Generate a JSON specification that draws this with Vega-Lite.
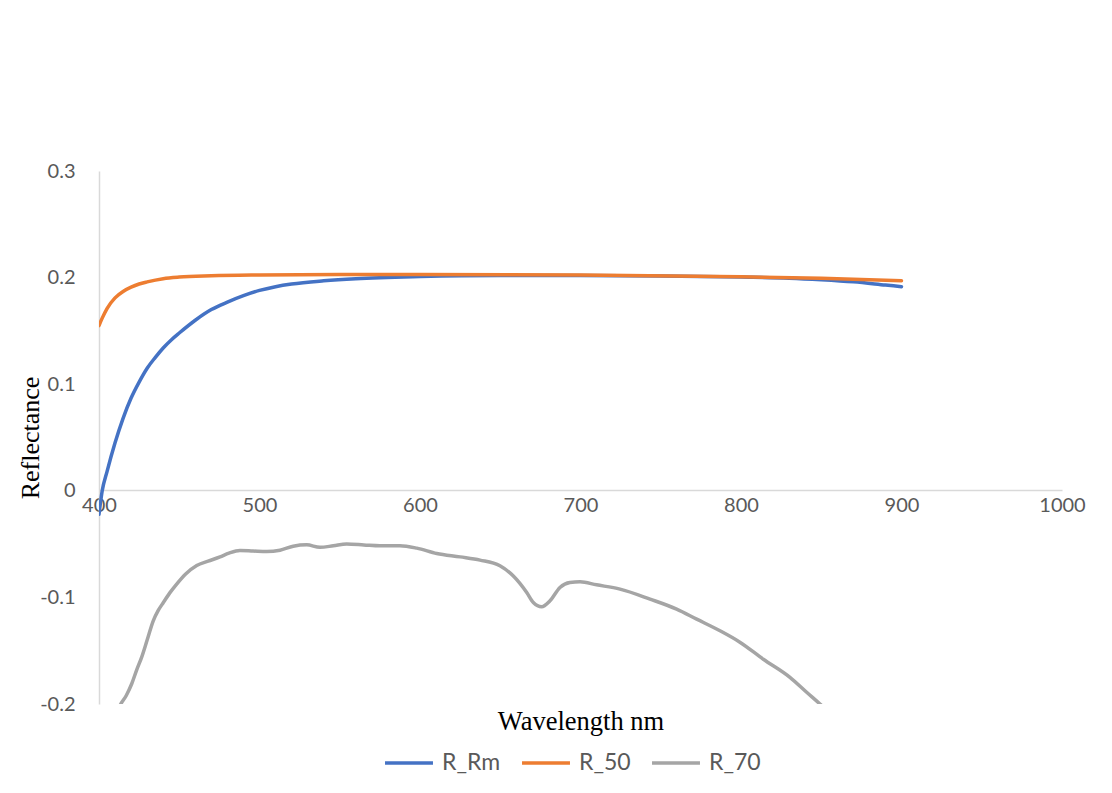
{
  "$schema": "https://vega.github.io/schema/vega-lite/v6.json",
  "width": 963,
  "height": 533,
  "autosize": {"type": "none"},
  "padding": {"left": 99, "top": 171, "right": 50, "bottom": 89},
  "background": "white",
  "config": {"view": {"stroke": null}},
  "data": {"values": [
    {"nm": 400, "v": -0.022, "s": "R_Rm"},
    {"nm": 402, "v": 0.0, "s": "R_Rm"},
    {"nm": 405, "v": 0.018, "s": "R_Rm"},
    {"nm": 410, "v": 0.045, "s": "R_Rm"},
    {"nm": 415, "v": 0.068, "s": "R_Rm"},
    {"nm": 420, "v": 0.087, "s": "R_Rm"},
    {"nm": 425, "v": 0.102, "s": "R_Rm"},
    {"nm": 430, "v": 0.115, "s": "R_Rm"},
    {"nm": 435, "v": 0.125, "s": "R_Rm"},
    {"nm": 440, "v": 0.134, "s": "R_Rm"},
    {"nm": 445, "v": 0.1415, "s": "R_Rm"},
    {"nm": 450, "v": 0.148, "s": "R_Rm"},
    {"nm": 460, "v": 0.16, "s": "R_Rm"},
    {"nm": 470, "v": 0.17, "s": "R_Rm"},
    {"nm": 480, "v": 0.177, "s": "R_Rm"},
    {"nm": 490, "v": 0.183, "s": "R_Rm"},
    {"nm": 500, "v": 0.188, "s": "R_Rm"},
    {"nm": 510, "v": 0.1915, "s": "R_Rm"},
    {"nm": 520, "v": 0.194, "s": "R_Rm"},
    {"nm": 540, "v": 0.197, "s": "R_Rm"},
    {"nm": 560, "v": 0.199, "s": "R_Rm"},
    {"nm": 600, "v": 0.201, "s": "R_Rm"},
    {"nm": 650, "v": 0.202, "s": "R_Rm"},
    {"nm": 700, "v": 0.202, "s": "R_Rm"},
    {"nm": 750, "v": 0.2015, "s": "R_Rm"},
    {"nm": 800, "v": 0.2005, "s": "R_Rm"},
    {"nm": 830, "v": 0.1995, "s": "R_Rm"},
    {"nm": 850, "v": 0.198, "s": "R_Rm"},
    {"nm": 870, "v": 0.196, "s": "R_Rm"},
    {"nm": 890, "v": 0.193, "s": "R_Rm"},
    {"nm": 900, "v": 0.1915, "s": "R_Rm"},
    {"nm": 400, "v": 0.155, "s": "R_50"},
    {"nm": 402, "v": 0.162, "s": "R_50"},
    {"nm": 405, "v": 0.171, "s": "R_50"},
    {"nm": 410, "v": 0.181, "s": "R_50"},
    {"nm": 415, "v": 0.187, "s": "R_50"},
    {"nm": 420, "v": 0.191, "s": "R_50"},
    {"nm": 425, "v": 0.194, "s": "R_50"},
    {"nm": 430, "v": 0.196, "s": "R_50"},
    {"nm": 440, "v": 0.199, "s": "R_50"},
    {"nm": 450, "v": 0.2005, "s": "R_50"},
    {"nm": 470, "v": 0.2017, "s": "R_50"},
    {"nm": 500, "v": 0.2025, "s": "R_50"},
    {"nm": 550, "v": 0.203, "s": "R_50"},
    {"nm": 600, "v": 0.203, "s": "R_50"},
    {"nm": 700, "v": 0.2025, "s": "R_50"},
    {"nm": 800, "v": 0.2007, "s": "R_50"},
    {"nm": 850, "v": 0.1995, "s": "R_50"},
    {"nm": 900, "v": 0.197, "s": "R_50"},
    {"nm": 405, "v": -0.235, "s": "R_70"},
    {"nm": 410, "v": -0.213, "s": "R_70"},
    {"nm": 413, "v": -0.2017, "s": "R_70"},
    {"nm": 417, "v": -0.192, "s": "R_70"},
    {"nm": 420.4, "v": -0.181, "s": "R_70"},
    {"nm": 423.5, "v": -0.168, "s": "R_70"},
    {"nm": 426.6, "v": -0.156, "s": "R_70"},
    {"nm": 430, "v": -0.14, "s": "R_70"},
    {"nm": 433.8, "v": -0.122, "s": "R_70"},
    {"nm": 437, "v": -0.112, "s": "R_70"},
    {"nm": 440, "v": -0.105, "s": "R_70"},
    {"nm": 444, "v": -0.096, "s": "R_70"},
    {"nm": 448.4, "v": -0.0875, "s": "R_70"},
    {"nm": 454, "v": -0.078, "s": "R_70"},
    {"nm": 460.9, "v": -0.07, "s": "R_70"},
    {"nm": 468, "v": -0.066, "s": "R_70"},
    {"nm": 475.4, "v": -0.062, "s": "R_70"},
    {"nm": 481, "v": -0.0585, "s": "R_70"},
    {"nm": 487.8, "v": -0.056, "s": "R_70"},
    {"nm": 496, "v": -0.0565, "s": "R_70"},
    {"nm": 504.5, "v": -0.057, "s": "R_70"},
    {"nm": 512.8, "v": -0.0557, "s": "R_70"},
    {"nm": 521, "v": -0.052, "s": "R_70"},
    {"nm": 529.4, "v": -0.0507, "s": "R_70"},
    {"nm": 537.7, "v": -0.053, "s": "R_70"},
    {"nm": 546, "v": -0.0516, "s": "R_70"},
    {"nm": 554.3, "v": -0.05, "s": "R_70"},
    {"nm": 565, "v": -0.0508, "s": "R_70"},
    {"nm": 575, "v": -0.0516, "s": "R_70"},
    {"nm": 587.5, "v": -0.0516, "s": "R_70"},
    {"nm": 598, "v": -0.0538, "s": "R_70"},
    {"nm": 610.4, "v": -0.0588, "s": "R_70"},
    {"nm": 625, "v": -0.062, "s": "R_70"},
    {"nm": 637.4, "v": -0.065, "s": "R_70"},
    {"nm": 649.8, "v": -0.0704, "s": "R_70"},
    {"nm": 658, "v": -0.0797, "s": "R_70"},
    {"nm": 666.5, "v": -0.0954, "s": "R_70"},
    {"nm": 670.6, "v": -0.1048, "s": "R_70"},
    {"nm": 675.8, "v": -0.1088, "s": "R_70"},
    {"nm": 681, "v": -0.1032, "s": "R_70"},
    {"nm": 687.2, "v": -0.0907, "s": "R_70"},
    {"nm": 693.4, "v": -0.086, "s": "R_70"},
    {"nm": 699.7, "v": -0.0854, "s": "R_70"},
    {"nm": 710, "v": -0.0882, "s": "R_70"},
    {"nm": 724.6, "v": -0.0922, "s": "R_70"},
    {"nm": 743.3, "v": -0.1016, "s": "R_70"},
    {"nm": 759.9, "v": -0.111, "s": "R_70"},
    {"nm": 772.4, "v": -0.1204, "s": "R_70"},
    {"nm": 786.9, "v": -0.1313, "s": "R_70"},
    {"nm": 799.3, "v": -0.142, "s": "R_70"},
    {"nm": 813.9, "v": -0.158, "s": "R_70"},
    {"nm": 830.5, "v": -0.175, "s": "R_70"},
    {"nm": 840.9, "v": -0.189, "s": "R_70"},
    {"nm": 849.2, "v": -0.2, "s": "R_70"},
    {"nm": 860, "v": -0.215, "s": "R_70"},
    {"nm": 880, "v": -0.242, "s": "R_70"},
    {"nm": 900, "v": -0.27, "s": "R_70"}
  ]},
  "mark": {"type": "line", "strokeWidth": 3.5, "clip": true, "strokeCap": "round", "strokeJoin": "round", "interpolate": "monotone"},
  "encoding": {
    "x": {
      "field": "nm", "type": "quantitative",
      "scale": {"domain": [400, 1000], "nice": false, "zero": false},
      "axis": {
        "values": [400, 500, 600, 700, 800, 900, 1000],
        "labelExpr": "'' + datum.value",
        "offset": -214,
        "grid": false,
        "ticks": false,
        "domainColor": "#d9d9d9",
        "domainWidth": 1.5,
        "labelFont": "Lato",
        "labelFontSize": 20,
        "labelColor": "#595959",
        "labelPadding": 5,
        "labelFlush": false,
        "title": "Wavelength nm",
        "titleFont": "Liberation Serif",
        "titleFontSize": 26.5,
        "titleFontWeight": "normal",
        "titleColor": "#000000",
        "titleX": 481.5,
        "titleY": 231,
        "titleAlign": "center",
        "titleBaseline": "middle"
      }
    },
    "y": {
      "field": "v", "type": "quantitative",
      "scale": {"domain": [-0.2, 0.3], "nice": false, "zero": false},
      "axis": {
        "values": [-0.2, -0.1, 0, 0.1, 0.2, 0.3],
        "labelExpr": "'' + datum.value",
        "grid": false,
        "ticks": false,
        "domainColor": "#d9d9d9",
        "domainWidth": 1.5,
        "labelFont": "Lato",
        "labelFontSize": 20,
        "labelColor": "#595959",
        "labelPadding": 24,
        "labelFlush": false,
        "title": "Reflectance",
        "titleFont": "Liberation Serif",
        "titleFontSize": 26,
        "titleFontWeight": "normal",
        "titleColor": "#000000",
        "titleX": -69,
        "titleY": 266.5,
        "titleAngle": -90,
        "titleAlign": "center",
        "titleBaseline": "middle"
      }
    },
    "color": {
      "field": "s", "type": "nominal",
      "scale": {"domain": ["R_Rm", "R_50", "R_70"], "range": ["#4472C4", "#ED7D31", "#A5A5A5"]},
      "legend": {
        "title": null,
        "orient": "none",
        "direction": "horizontal",
        "legendX": 284,
        "legendY": 566,
        "symbolType": "stroke",
        "symbolStrokeWidth": 3.5,
        "symbolSize": 2300,
        "labelFont": "Lato",
        "labelFontSize": 23,
        "labelColor": "#595959",
        "labelOffset": 7,
        "columnPadding": 14
      }
    },
    "order": {"field": "nm", "type": "quantitative"}
  }
}
